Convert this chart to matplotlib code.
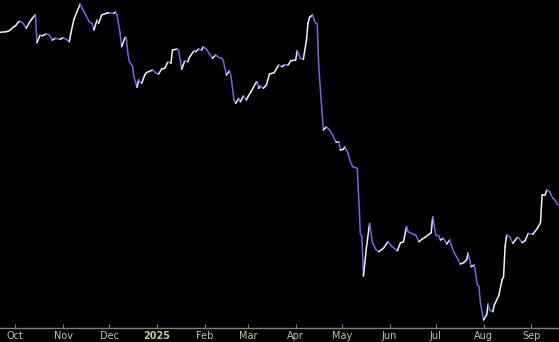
import matplotlib
matplotlib.use("Agg")
import matplotlib.pyplot as plt
import matplotlib.dates as mdates
from matplotlib.collections import LineCollection
import numpy as np
import pandas as pd

dates = [
    "2024-09-21", "2024-09-25", "2024-09-27", "2024-09-30", "2024-10-01", "2024-10-03", "2024-10-04",
    "2024-10-06", "2024-10-08", "2024-10-10", "2024-10-12", "2024-10-14", "2024-10-15", "2024-10-17",
    "2024-10-18", "2024-10-21", "2024-10-23", "2024-10-25", "2024-10-27", "2024-10-30", "2024-11-01",
    "2024-11-03", "2024-11-05", "2024-11-06", "2024-11-08", "2024-11-10", "2024-11-12", "2024-11-14",
    "2024-11-16", "2024-11-18", "2024-11-20", "2024-11-21", "2024-11-23", "2024-11-24", "2024-11-26",
    "2024-11-29", "2024-12-01", "2024-12-04", "2024-12-05", "2024-12-06", "2024-12-08", "2024-12-09",
    "2024-12-11", "2024-12-12", "2024-12-13", "2024-12-14", "2024-12-16", "2024-12-17", "2024-12-19",
    "2024-12-20", "2024-12-22", "2024-12-24", "2024-12-25", "2024-12-29", "2024-12-31", "2025-01-02",
    "2025-01-04", "2025-01-06", "2025-01-08", "2025-01-10", "2025-01-11", "2025-01-14", "2025-01-15",
    "2025-01-17", "2025-01-18", "2025-01-19", "2025-01-21", "2025-01-22", "2025-01-25", "2025-01-26",
    "2025-01-28", "2025-01-30", "2025-01-31", "2025-02-02", "2025-02-04", "2025-02-06", "2025-02-08",
    "2025-02-10", "2025-02-12", "2025-02-13", "2025-02-15", "2025-02-17", "2025-02-18", "2025-02-20",
    "2025-02-21", "2025-02-23", "2025-02-24", "2025-02-26", "2025-02-28", "2025-03-01", "2025-03-03",
    "2025-03-06", "2025-03-07", "2025-03-08", "2025-03-09", "2025-03-11", "2025-03-13", "2025-03-15",
    "2025-03-18", "2025-03-21", "2025-03-23", "2025-03-25", "2025-03-27", "2025-03-29", "2025-04-01",
    "2025-04-02", "2025-04-04", "2025-04-06", "2025-04-08", "2025-04-09", "2025-04-10", "2025-04-12",
    "2025-04-13", "2025-04-14", "2025-04-15", "2025-04-16", "2025-04-18", "2025-04-19", "2025-04-21",
    "2025-04-23", "2025-04-25", "2025-04-27", "2025-04-29", "2025-04-30", "2025-05-02", "2025-05-03",
    "2025-05-05", "2025-05-06", "2025-05-08", "2025-05-11", "2025-05-12", "2025-05-13", "2025-05-14",
    "2025-05-15", "2025-05-17", "2025-05-19", "2025-05-21", "2025-05-23", "2025-05-25", "2025-05-28",
    "2025-05-31", "2025-06-02", "2025-06-04", "2025-06-06", "2025-06-08", "2025-06-10", "2025-06-12",
    "2025-06-13", "2025-06-16", "2025-06-18", "2025-06-20", "2025-06-22", "2025-06-24", "2025-06-28",
    "2025-06-29", "2025-07-01", "2025-07-03", "2025-07-04", "2025-07-06", "2025-07-08", "2025-07-10",
    "2025-07-11", "2025-07-13", "2025-07-17", "2025-07-19", "2025-07-21", "2025-07-22", "2025-07-24",
    "2025-07-26", "2025-07-28", "2025-07-29", "2025-07-30", "2025-08-01", "2025-08-03", "2025-08-04",
    "2025-08-05", "2025-08-07", "2025-08-08", "2025-08-11", "2025-08-13", "2025-08-14", "2025-08-15",
    "2025-08-16", "2025-08-18", "2025-08-20", "2025-08-23", "2025-08-24", "2025-08-26", "2025-08-28",
    "2025-08-30", "2025-09-02", "2025-09-05", "2025-09-07", "2025-09-08", "2025-09-10", "2025-09-11",
    "2025-09-13", "2025-09-15", "2025-09-16", "2025-09-18", "2025-09-19",
]

values = [
    307.7, 308.3, 309.3, 313.3, 314.0, 318.0, 318.7,
    316.7, 311.7, 317.3, 321.7, 325.3, 297.3, 305.0,
    304.0, 306.0, 305.3, 300.0, 301.7, 300.7, 302.3,
    300.7, 298.3, 306.7, 320.7, 328.3, 336.0, 330.0,
    324.0, 318.3, 316.0, 310.0, 320.0, 316.7, 325.0,
    326.7, 327.3, 326.7, 328.0, 325.0, 306.7, 293.3,
    301.7, 302.7, 286.7, 278.3, 274.0, 263.3, 252.7,
    260.0, 256.7, 265.0, 267.3, 270.0, 267.3, 266.0,
    271.0, 271.7, 278.0, 276.7, 290.0, 291.0, 290.0,
    270.7, 275.0, 279.0, 278.3, 282.7, 289.3, 288.3,
    291.0, 290.0, 293.3, 291.0, 286.0, 281.7, 285.0,
    282.7, 281.7, 279.3, 265.0, 269.3, 263.3, 240.0,
    236.7, 241.7, 238.3, 244.0, 240.0, 243.3, 248.3,
    256.7, 258.3, 251.7, 254.0, 251.7, 255.0, 266.0,
    267.3, 275.0, 273.3, 275.3, 275.0, 279.3, 280.0,
    289.3, 281.7, 280.7, 300.0, 316.7, 322.7, 325.0,
    320.0, 316.7, 316.0, 273.3, 230.0, 210.0, 213.3,
    210.0, 205.0, 198.3, 198.3, 190.0, 190.7, 193.3,
    186.7, 180.7, 173.3, 171.7, 140.0, 106.7, 103.3,
    64.0, 93.3, 116.5, 96.7, 90.7, 88.3, 91.7,
    98.3, 94.5, 91.7, 89.3, 97.0, 98.3, 113.3,
    108.3, 106.0, 105.0, 98.3, 100.7, 102.7, 107.3,
    123.3, 105.0, 104.0, 100.0, 101.7, 96.0, 100.0,
    95.0, 87.3, 76.0, 77.3, 80.0, 87.3, 73.3,
    75.0, 55.0, 53.3, 36.7, 20.0, 25.0, 36.0,
    30.0, 28.3, 35.0, 45.0, 60.0, 63.3, 93.3,
    105.0, 103.3, 96.7, 102.7, 101.7, 97.3, 99.3,
    106.7, 105.7, 111.7, 117.3, 145.0, 145.0, 150.0,
    148.3, 141.7, 140.7, 136.0, 134.5,
]

tick_dates = ["2024-10-01", "2024-11-01", "2024-12-01", "2025-01-01", "2025-02-01", "2025-03-01",
              "2025-04-01", "2025-05-01", "2025-06-01", "2025-07-01", "2025-08-01", "2025-09-01"]
tick_labels = ["Oct", "Nov", "Dec", "2025", "Feb", "Mar", "Apr", "May", "Jun", "Jul", "Aug", "Sep"]

up_color = "#f2f2f2"
down_color = "#6a6ae8"
axis_color = "#808080"
label_color = "#c8c49c"

x = mdates.date2num(pd.to_datetime(dates))
y = np.array(values)

fig = plt.figure(figsize=(5.59, 3.42), dpi=100, facecolor="black")
ax = fig.add_axes([0, 14 / 342, 1, 328 / 342])
ax.set_facecolor("black")

pts = np.column_stack([x, y])
segs = np.stack([pts[:-1], pts[1:]], axis=1)
cols = [up_color if y[i + 1] >= y[i] else down_color for i in range(len(y) - 1)]
lc = LineCollection(segs, colors=cols, linewidths=1.1, capstyle="round", joinstyle="round")
ax.add_collection(lc)

ax.set_xlim(mdates.date2num(pd.Timestamp("2024-09-21")), mdates.date2num(pd.Timestamp("2025-09-19")))
ax.set_ylim(12, 340)

for s in ["top", "left", "right"]:
    ax.spines[s].set_visible(False)
ax.spines["bottom"].set_color(axis_color)
ax.spines["bottom"].set_linewidth(1.0)
ax.set_yticks([])

ax.set_xticks(mdates.date2num(pd.to_datetime(tick_dates)))
ax.set_xticklabels(tick_labels)
ax.tick_params(axis="x", direction="in", length=3, width=0.8, color=axis_color,
               labelcolor=label_color, labelsize=7, pad=2.5)
for lbl in ax.get_xticklabels():
    if lbl.get_text() == "2025":
        lbl.set_fontweight("bold")

fig.savefig("out.png", dpi=100, facecolor="black")
